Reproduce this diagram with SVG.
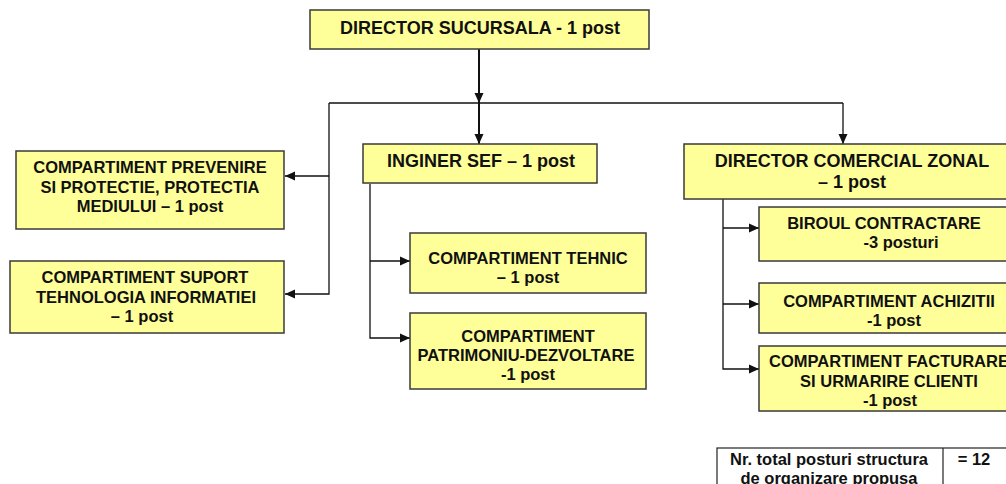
<svg xmlns="http://www.w3.org/2000/svg" width="1006" height="484" viewBox="0 0 1006 484">
<style>
.box{fill:#FFFF99;stroke:#3a3a3a;stroke-width:1.5}
.t{font-family:"Liberation Sans",Arial,sans-serif;font-weight:bold;font-size:16.5px;fill:#111;text-anchor:middle}
.h{font-size:18px}
.c{fill:none;stroke:#111;stroke-width:1.3}
.c2{fill:none;stroke:#111;stroke-width:2}
.tb{fill:#fff;stroke:#222;stroke-width:1.2}
</style>
<defs>
<marker id="a" markerUnits="userSpaceOnUse" markerWidth="10" markerHeight="10" viewBox="0 0 10 10" refX="10" refY="5" orient="auto">
<path d="M0,0.5 L10,5 L0,9.5 Z" fill="#111"/>
</marker>
</defs>
<rect width="1006" height="484" fill="#fff"/>
<g id="connectors">
<path class="c2" d="M479,49 V103" marker-end="url(#a)"/>
<path class="c2" d="M479,103 V144" marker-end="url(#a)"/>
<path class="c" d="M329,103 H843"/>
<path class="c" d="M843,103 V144" marker-end="url(#a)"/>
<path class="c" d="M329,103 V294 H285" marker-end="url(#a)"/>
<path class="c" d="M329,176 H285" marker-end="url(#a)"/>
<path class="c" d="M370,184 V338 H410" marker-end="url(#a)"/>
<path class="c" d="M370,261 H410" marker-end="url(#a)"/>
<path class="c" d="M723,196 V369 H759" marker-end="url(#a)"/>
<path class="c" d="M723,228 H759" marker-end="url(#a)"/>
<path class="c" d="M723,304 H759" marker-end="url(#a)"/>
</g>
<g id="director-sucursala">
<rect class="box" x="310" y="10" width="339" height="39"/>
<text class="t h" x="480" y="34">DIRECTOR SUCURSALA - 1 post</text>
</g>
<g id="prevenire">
<rect class="box" x="16" y="151" width="268" height="78"/>
<text class="t" x="150" y="173">COMPARTIMENT PREVENIRE</text>
<text class="t" x="150" y="193">SI PROTECTIE, PROTECTIA</text>
<text class="t" x="150" y="212">MEDIULUI – 1 post</text>
</g>
<g id="suport">
<rect class="box" x="10" y="261" width="274" height="72"/>
<text class="t" x="145" y="283">COMPARTIMENT SUPORT</text>
<text class="t" x="146" y="303">TEHNOLOGIA INFORMATIEI</text>
<text class="t" x="142" y="322">– 1 post</text>
</g>
<g id="inginer-sef">
<rect class="box" x="363" y="144" width="234" height="39"/>
<text class="t h" x="481" y="167">INGINER SEF – 1 post</text>
</g>
<g id="tehnic">
<rect class="box" x="410" y="233" width="236" height="60"/>
<text class="t" x="528" y="264">COMPARTIMENT TEHNIC</text>
<text class="t" x="528" y="283">– 1 post</text>
</g>
<g id="patrimoniu">
<rect class="box" x="410" y="313" width="236" height="76"/>
<text class="t" x="528" y="342">COMPARTIMENT</text>
<text class="t" x="526" y="361">PATRIMONIU-DEZVOLTARE</text>
<text class="t" x="528" y="380">-1 post</text>
</g>
<g id="director-comercial">
<rect class="box" x="684" y="144" width="340" height="55"/>
<text class="t h" x="852" y="167">DIRECTOR COMERCIAL ZONAL</text>
<text class="t h" x="852" y="188">– 1 post</text>
</g>
<g id="contractare">
<rect class="box" x="759" y="207" width="262" height="54"/>
<text class="t" x="884" y="229">BIROUL CONTRACTARE</text>
<text class="t" x="901" y="248">-3 posturi</text>
</g>
<g id="achizitii">
<rect class="box" x="759" y="283" width="262" height="50"/>
<text class="t" x="889" y="307">COMPARTIMENT ACHIZITII</text>
<text class="t" x="894" y="326">-1 post</text>
</g>
<g id="facturare">
<rect class="box" x="759" y="346" width="262" height="65"/>
<text class="t" x="889" y="367">COMPARTIMENT FACTURARE</text>
<text class="t" x="889" y="387">SI URMARIRE CLIENTI</text>
<text class="t" x="890" y="406">-1 post</text>
</g>
<g id="total-table">
<rect class="tb" x="717" y="448" width="310" height="60"/>
<line x1="943" y1="448" x2="943" y2="508" stroke="#222" stroke-width="1.2"/>
<text class="t" x="829" y="465">Nr. total posturi structura</text>
<text class="t" x="829" y="484">de organizare propusa</text>
<text class="t" x="974" y="465">= 12</text>
</g>
</svg>
